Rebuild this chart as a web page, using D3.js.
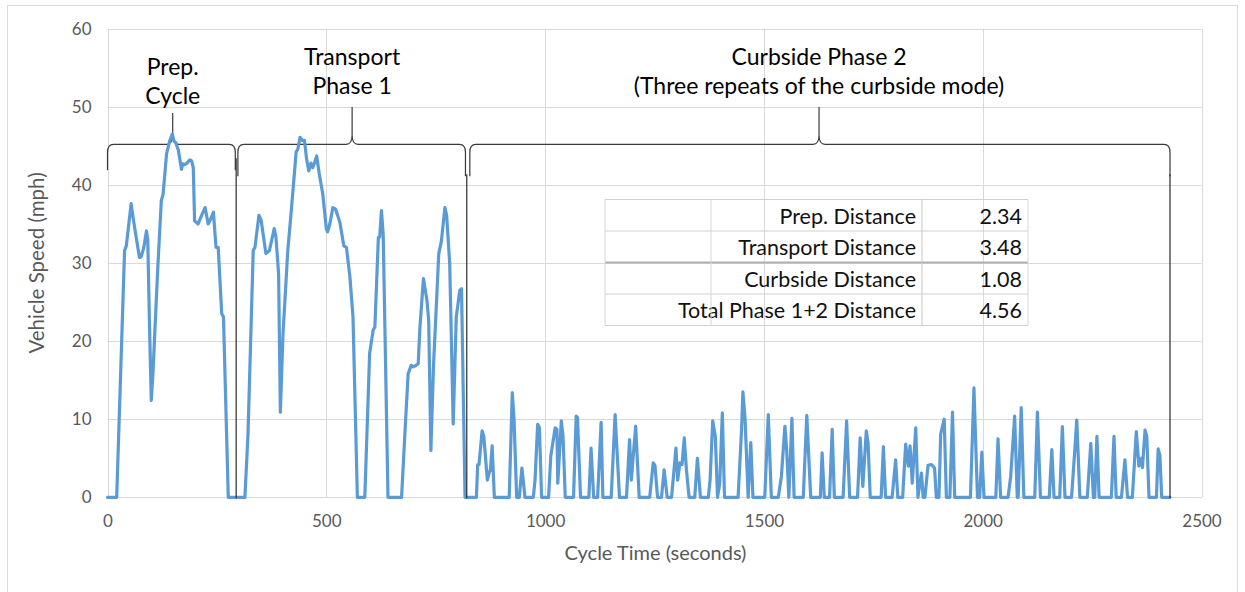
<!DOCTYPE html>
<html><head><meta charset="utf-8">
<script src="https://cdn.jsdelivr.net/npm/d3@7"></script>
<style>body{margin:0;background:#fff} text{font-family:Lato,"Open Sans",sans-serif}</style>
</head><body><svg id="chart" width="1245" height="592"></svg>
<script>
// ---- data: [time (s), speed (mph)] ----
const prepCycle = [[0,0],[21,0],[39,31.6],[43,32.2],[54,37.6],[58,36],[65,33.5],[73,30.7],[77,30.8],[83,32],[89,34.1],[92,33],[96,22],[100,12.4],[104,16],[108,21],[115,29.5],[123,38],[127,38.8],[135,44],[142,45.6],[148,46.5],[152,45.6],[156,45.4],[162,44.4],[169,42],[172,42.7],[176,42.6],[180,42.7],[188,43.2],[192,43.1],[196,42.2],[199,35.4],[207,35],[215,36.1],[223,37.1],[230,35],[234,35.4],[242,36.5],[248,32],[253,32],[261,23.5],[265,23.1],[276,0],[295,0]];
const transportPhase = [[314,0],[321,8],[333,31.6],[337,32],[346,36.1],[351,35.5],[362,31.2],[370,31.6],[381,34.4],[385,33.3],[391,28.6],[395,10.9],[401,20.9],[412,31.6],[420,36.7],[427,41.4],[431,44.2],[435,44.6],[440,46.1],[445,45.7],[450,45.7],[455,43.3],[460,41.8],[465,42.8],[469,42.2],[473,42.8],[478,43.7],[484,41.4],[492,38.8],[500,34.4],[503,34],[508,35],[515,37.1],[521,36.9],[526,36.1],[531,35.2],[540,32.2],[546,32],[554,28.2],[561,23.1],[571,0],[588,0],[599,18.4],[607,21.4],[611,21.8],[619,33.3],[622,33.3],[626,36.7],[630,33.7],[641,0],[672,0],[680,8.6],[687,15.8],[694,16.9],[699,16.7],[705,16.9],[710,17.1],[714,21.8],[722,28],[730,25.2],[734,22.6],[739,6],[745,16.9],[752,25.2],[757,31.2],[763,32.8],[771,37.1],[775,36.1],[782,29.9],[790,9.4],[797,23.1],[801,24.8],[805,26.5],[809,26.7],[817,0]];
const curbsidePhase = [[843,0],[846,4.2],[849,4.2],[856,8.5],[860,7.8],[868,2.2],[872,3.1],[875,3.5],[879,6.6],[884,0],[918,0],[925,13.4],[929,10],[935,0],[941,0],[947,3.75],[950,2.2],[954,0],[973,0],[977,2.2],[983,9.35],[987,8.9],[992,0],[1008,0],[1013,5.3],[1023,8.9],[1027,8.7],[1029,1.8],[1037,9.8],[1041,7.8],[1046,0],[1065,0],[1071,10.4],[1074,10.2],[1081,0],[1100,0],[1105,6.3],[1111,0],[1120,0],[1128,9.6],[1132,0],[1151,0],[1160,10.6],[1170,0],
[1186,0],[1193,7.4],[1197,2.2],[1207,9.1],[1215,0],[1239,0],[1247,4.4],[1251,4.1],[1257,0],[1266,0],[1272,3.5],[1279,0],[1289,0],[1299,6.3],[1303,2.2],[1308,4.4],[1313,4.2],[1318,7.6],[1323,3.5],[1329,0],[1342,0],[1348,5],[1355,0],[1373,0],[1377,2.2],[1383,9.8],[1389,7.8],[1394,0],[1399,1.8],[1405,10.8],[1410,0],
[1441,0],[1449,8.7],[1452,13.5],[1457,10],[1464,0],[1470,7],[1475,0],[1502,0],[1510,10.6],[1517,0],[1533,0],[1540,2.7],[1548,9.1],[1552,6.1],[1557,0],[1564,10.1],[1569,0],[1590,0],[1598,10.5],[1607,0],[1629,0],[1633,5.7],[1638,0],[1650,0],[1656,8.7],[1661,0],[1681,0],[1689,9.8],[1696,0],
[1714,0],[1720,7.6],[1726,1.4],[1734,8.5],[1738,7],[1743,0],[1768,0],[1773,6.5],[1778,0],[1793,0],[1801,4.8],[1806,0],[1817,0],[1824,6.8],[1830,4],[1834,6.6],[1839,1.8],[1847,8.9],[1852,0],[1860,3.1],[1864,0],[1868,0],[1875,4.1],[1883,4.2],[1890,3.75],[1894,0],[1900,0],[1904,8.1],[1912,10],[1917,0],[1925,0],[1931,10.9],[1936,0],[1972,0],[1980,14],[1988,0],
[1993,0],[1998,5.8],[2003,0],[2030,0],[2035,7.5],[2041,0],[2058,0],[2064,2.7],[2073,10.4],[2079,0],[2081,0],[2088,11.5],[2094,0],[2119,0],[2125,10.9],[2132,0],[2152,0],[2158,6.1],[2163,0],[2176,0],[2182,9.05],[2188,0],[2203,0],[2210,5.7],[2215,9.9],[2222,0],[2239,0],[2247,6.9],[2253,0],[2256,0],[2261,7.8],[2266,0],[2294,0],[2300,7.8],[2305,0],[2317,0],[2325,4.8],[2331,0],[2342,0],[2351,8.4],[2357,4],[2363,5],[2365,3.8],[2371,8.6],[2375,7.8],[2380,0],[2397,0],[2401,6.2],[2405,5.3],[2409,0],[2428,0]];

const xTicks = [0,500,1000,1500,2000,2500];
const yTicks = [0,10,20,30,40,50,60];
const phaseLabels = [["Prep.","Cycle"],["Transport","Phase 1"],["Curbside Phase 2","(Three repeats of the curbside mode)"]];
const phaseStart = [0, 298, 828];
const phaseEnd = [292, 818, 2428];
const phasePeak = [149, 559, 1626];
const phaseDividers = [294, 821, 2428];
const tableLabels = ["Prep. Distance","Transport Distance","Curbside Distance","Total Phase 1+2 Distance"];
const tableValues = ["2.34","3.48","1.08","4.56"];
const xTitle = "Cycle Time (seconds)";
const yTitle = "Vehicle Speed (mph)";

// ---- layout ----
const svg = d3.select("#chart");
const plot = {left:107.5, right:1201.5, top:28.7, bottom:497.3};
const x = d3.scaleLinear().domain([0,2500]).range([plot.left, plot.right]);
const y = d3.scaleLinear().domain([0,60]).range([plot.bottom, plot.top]);

svg.append("rect").attr("x",7.5).attr("y",5.5).attr("width",1230).attr("height",620)
  .attr("fill","#fff").attr("stroke","#d9d9d9");

// gridlines
svg.append("g").selectAll("line").data(yTicks).join("line")
  .attr("x1",plot.left).attr("x2",plot.right)
  .attr("y1",d=>Math.round(y(d))+0.5).attr("y2",d=>Math.round(y(d))+0.5)
  .attr("stroke","#d9d9d9").attr("stroke-width",1);
svg.append("g").selectAll("line").data(xTicks).join("line")
  .attr("y1",plot.top).attr("y2",plot.bottom)
  .attr("x1",d=>Math.round(x(d))+0.5).attr("x2",d=>Math.round(x(d))+0.5)
  .attr("stroke","#d9d9d9").attr("stroke-width",1);

// axes labels via d3 axes
const yAxis = svg.append("g").attr("transform",`translate(${plot.left},0)`)
  .call(d3.axisLeft(y).tickValues(yTicks).tickSize(0).tickPadding(16));
const xAxis = svg.append("g").attr("transform",`translate(0,${plot.bottom})`)
  .call(d3.axisBottom(x).tickValues(xTicks).tickSize(0).tickPadding(18).tickFormat(d3.format("d")));
[yAxis,xAxis].forEach(a=>{a.select(".domain").remove();
  a.selectAll("text").attr("fill","#595959").style("font-size","17px").style("font-family","Lato, sans-serif");});

svg.append("text").attr("x",(plot.left+plot.right)/2 + 1).attr("y",560).attr("text-anchor","middle")
  .attr("fill","#595959").style("font-size","20px").text(xTitle);
svg.append("text").attr("transform",`translate(44,${(plot.top+plot.bottom)/2}) rotate(-90)`)
  .attr("text-anchor","middle").attr("fill","#595959").style("font-size","20.5px").text(yTitle);

// braces
const yh = y(45.2);
function bracePath(i){
  const x0 = x(phaseStart[i]), x1 = x(phaseEnd[i]), xm = x(phasePeak[i]);
  const yb = i===0 ? yh+26 : yh+32;
  const yt = i===0 ? 113 : 107;
  const r = 6;
  return `M${x0},${yb} L${x0},${yh+r+2} Q${x0},${yh} ${x0+r},${yh} L${xm-r},${yh} Q${xm},${yh} ${xm},${yh-r-3} L${xm},${yt} L${xm},${yh-r-3} Q${xm},${yh} ${xm+r},${yh} L${x1-r},${yh} Q${x1},${yh} ${x1},${yh+r+2} L${x1},${yb}`;
}
svg.append("g").selectAll("path").data([0,1,2]).join("path")
  .attr("d",bracePath).attr("fill","none").attr("stroke","#3a3a3a").attr("stroke-width",1.2);

// speed trace
const speed = prepCycle.concat(transportPhase, curbsidePhase);
svg.append("path").datum(speed)
  .attr("d", d3.line().x(d=>x(d[0])).y(d=>y(d[1])))
  .attr("fill","none").attr("stroke","#5b9bd5").attr("stroke-width",3.2)
  .attr("stroke-linejoin","round").attr("stroke-linecap","round");

// phase dividers
svg.append("g").selectAll("line").data(phaseDividers).join("line")
  .attr("x1",d=>x(d)).attr("x2",d=>x(d)).attr("y1",(d,i)=>i===0?yh+14:yh+30).attr("y2",plot.bottom+1)
  .attr("stroke","#2a2a2a").attr("stroke-width",1.2);

// phase labels
const labelY = [[75,103.5],[65,94],[65,94]];
phaseLabels.forEach((lines,i)=>{
  lines.forEach((t,j)=>{
    svg.append("text").attr("x",x(phasePeak[i])).attr("y",labelY[i][j]).attr("text-anchor","middle")
      .attr("fill","#000").style("font-size","23px").text(t);
  });
});

// distance table
const tb = {x0:605, x1:711, x2:922, x3:1028, y0:199.5, rh:31.5};
const tg = svg.append("g");
tableLabels.forEach((lab,i)=>{
  const yy = tb.y0 + i*tb.rh;
  tg.append("text").attr("x",tb.x2-6).attr("y",yy+24).attr("text-anchor","end").style("font-size","21.5px").attr("fill","#111").text(lab);
  tg.append("text").attr("x",tb.x3-6).attr("y",yy+24).attr("text-anchor","end").style("font-size","21.5px").attr("fill","#111").text(tableValues[i]);
});
d3.range(5).forEach(i=>{
  const yy = tb.y0 + i*tb.rh;
  tg.append("line").attr("x1",tb.x0).attr("x2",tb.x3).attr("y1",yy).attr("y2",yy)
    .attr("stroke", i===2 ? "#b0b0b0" : "#d0d0d0").attr("stroke-width", i===2 ? 2 : 1);
});
[tb.x0,tb.x1,tb.x2,tb.x3].forEach((xx,k)=>{
  tg.append("line").attr("x1",xx).attr("x2",xx).attr("y1",tb.y0).attr("y2",tb.y0+4*tb.rh)
    .attr("stroke",k===2?"#c8c8c8":"#d6d6d6").attr("stroke-width",1);
});
</script></body></html>
